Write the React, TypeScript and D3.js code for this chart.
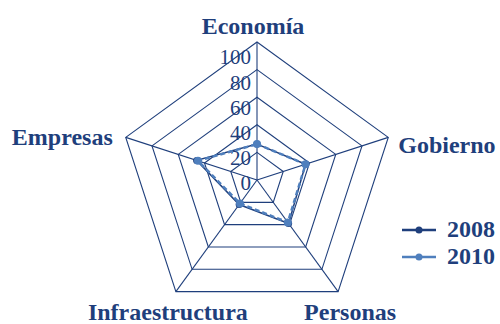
import * as d3 from "d3";
import * as React from "react";

const categories = ["Economía", "Gobierno", "Personas", "Infraestructura", "Empresas"];
const values2008 = [26, 37, 39, 22, 46];
const values2010 = [26, 37, 38, 21, 45];
const ticks = [0, 20, 40, 60, 80, 100];
const seriesNames = ["2008", "2010"];

const navy = "#1f3f7c";
const light = "#4f7fbd";

export default function App() {
  const width = 500;
  const height = 324;
  const cx = 257;
  const cy = 180;
  const R = 138;

  const r = d3.scaleLinear().domain([0, 100]).range([0, R]);
  const angle = d3
    .scalePoint<string>()
    .domain(categories)
    .range([0, (2 * Math.PI * (categories.length - 1)) / categories.length]);
  // tick labels sit a bit below their ring, spaced slightly tighter
  const tickY = d3.scaleLinear().domain([0, 100]).range([cy + 3, cy - 123]);

  const pt = (c: string, v: number): [number, number] => {
    const a = angle(c)!;
    return [cx + r(v) * Math.sin(a), cy - r(v) * Math.cos(a)];
  };

  const closed = d3.line().curve(d3.curveLinearClosed);
  const ring = (v: number) => closed(categories.map((c) => pt(c, v)))!;

  const series = [
    { name: seriesNames[0], vals: values2008, color: navy, width: 1.5, dash: "none", rad: 3.5 },
    { name: seriesNames[1], vals: values2010, color: light, width: 2.5, dash: "5,3", rad: 4 },
  ];

  // label anchors: [dx, dy, anchor]
  const labelPos: Record<string, [number, number, string]> = {
    Economía: [-4, -8, "middle"],
    Gobierno: [10, 16, "start"],
    Personas: [12, 28, "middle"],
    Infraestructura: [-8, 28, "middle"],
    Empresas: [-13, 8, "end"],
  };

  return (
    <svg width={width} height={height} style={{ position: "absolute", left: 0, top: 0 }}>
      <rect width={width} height={height} fill="#ffffff" />
      <g fill="none" stroke={navy} strokeWidth={1.1}>
        {ticks.slice(1).map((t) => (
          <path key={t} d={ring(t)} />
        ))}
        {categories.map((c) => {
          const [x, y] = pt(c, 100);
          return <line key={c} x1={cx} y1={cy} x2={x} y2={y} />;
        })}
      </g>
      <g fontFamily="'Liberation Serif', serif" fontSize={21} fill={navy} textAnchor="end">
        {ticks.map((t) => (
          <text key={t} x={cx - 6} y={tickY(t)} dy="0.35em">
            {t}
          </text>
        ))}
      </g>
      {series.map((s) => (
        <g key={s.name}>
          <path
            d={closed(categories.map((c, i) => pt(c, s.vals[i])))!}
            fill="none"
            stroke={s.color}
            strokeWidth={s.width}
            strokeDasharray={s.dash}
          />
          {categories.map((c, i) => {
            const [x, y] = pt(c, s.vals[i]);
            return <circle key={c} cx={x} cy={y} r={s.rad} fill={s.color} />;
          })}
        </g>
      ))}
      <g fontFamily="'Liberation Serif', serif" fontSize={24} fontWeight="bold" fill={navy}>
        {categories.map((c) => {
          const [x, y] = pt(c, 100);
          const [dx, dy, anchor] = labelPos[c];
          return (
            <text key={c} x={x + dx} y={y + dy} textAnchor={anchor}>
              {c}
            </text>
          );
        })}
      </g>
      <g fontFamily="'Liberation Serif', serif" fontSize={24} fontWeight="bold" fill={navy}>
        {series.map((s, i) => {
          const y = 230 + i * 27;
          return (
            <g key={s.name}>
              <line x1={402} x2={436} y1={y} y2={y} stroke={s.color} strokeWidth={2.5} />
              <circle cx={419} cy={y} r={3.5} fill={s.color} />
              <text x={447} y={y + 7}>
                {s.name}
              </text>
            </g>
          );
        })}
      </g>
    </svg>
  );
}
